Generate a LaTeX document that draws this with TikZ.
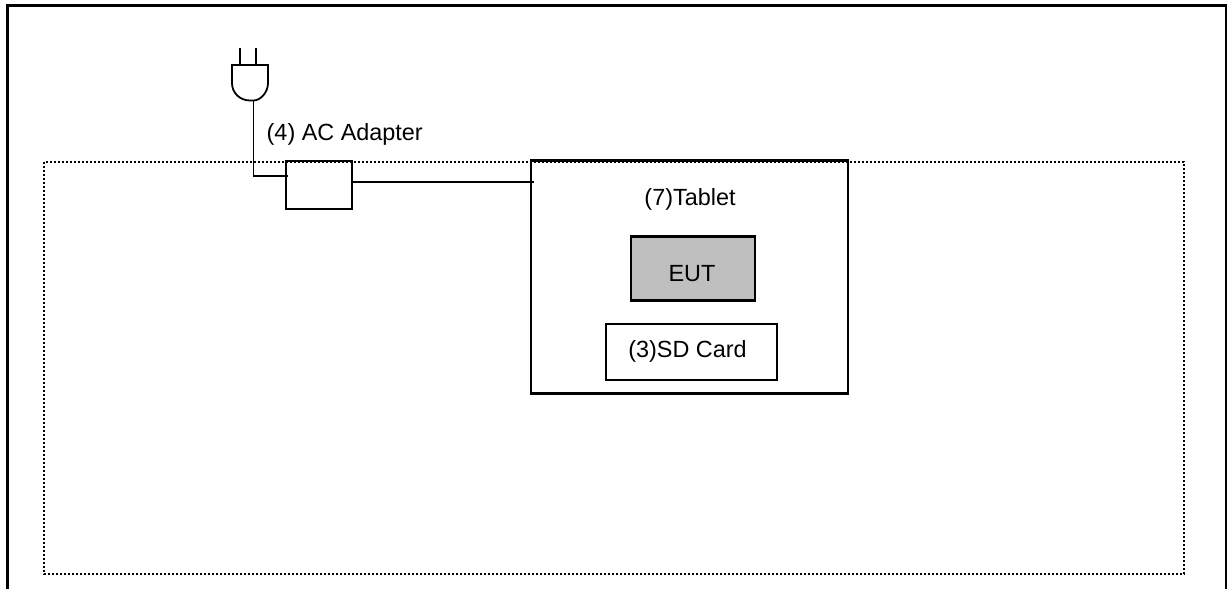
\documentclass[tikz,border=0pt]{standalone}
\usepackage{fontspec}
\setmainfont{Liberation Sans}
\usetikzlibrary{arrows}

\tikzset{
  unitbox/.style={draw,minimum width=#1,inner sep=0pt,outer sep=0pt},
  lbl/.style={inner sep=0pt,font=\fontsize{23.4}{26}\selectfont},
  wire/.style={line width=1.8pt}
}

\begin{document}
\begin{tikzpicture}[x=1pt,y=-1pt]
\useasboundingbox (0,0) rectangle (1227,589);

% outer frame, open at the bottom
\coordinate (fa) at (7.5,589);
\coordinate (fb) at (7.5,5.5);
\coordinate (fc) at (1226,5.5);
\coordinate (fd) at (1226,589);
\draw[line width=3pt] (fa) -- (fb) -- (fc) -- (fd);

% tablet and what sits in it
\node[unitbox=317pt,minimum height=233pt,line width=2.8pt,fill=white] (tablet) at (689.5,277) {};
\node[unitbox=124pt,minimum height=64pt,line width=2.8pt,fill=black!25] (eut) at (693,268.7) {};
\node[unitbox=171pt,minimum height=56pt,line width=2.5pt,fill=white] (sdcard) at (691.3,352) {};
\node[lbl] (tabletlbl) at (690,199) {(7)Tablet};
\node[lbl] (eutlbl) at (692,273.5) {EUT};
\node[lbl] (sdlbl) at (687.5,351) {(3)SD Card};

% adapter
\node[unitbox=66pt,minimum height=48pt,wire,fill=white] (adapter) at (319,185) {};
\node[lbl,anchor=west] (adapterlbl) at (266.5,134) {(4) AC Adapter};

% plug
\coordinate (pa) at (240,48);
\coordinate (pb) at (240,65);
\coordinate (pc) at (256,48);
\coordinate (pd) at (256,65);
\coordinate (plug) at (253.5,100.5);
\draw[wire] (pa) -- (pb);
\draw[wire] (pc) -- (pd);
\draw[wire] (232,65) -- (268,65) -- (268,83)
  .. controls (268,93) and (260,100.5) .. (plug)
  -- (250,100.5) .. controls (240,100.5) and (232,93) .. (232,83) -- cycle;

% cables
\coordinate (acin) at (288,176);
\coordinate (acout) at (352,182.3);
\coordinate (tabin) at (534,182.3);
\draw[wire] (plug) |- (acin);
\draw[wire] (acout) -- (tabin);

% shielded room
\draw[line width=1.7pt,dash pattern=on 2pt off 2pt] (44,162) rectangle (1184,574);

\end{tikzpicture}
\end{document}
